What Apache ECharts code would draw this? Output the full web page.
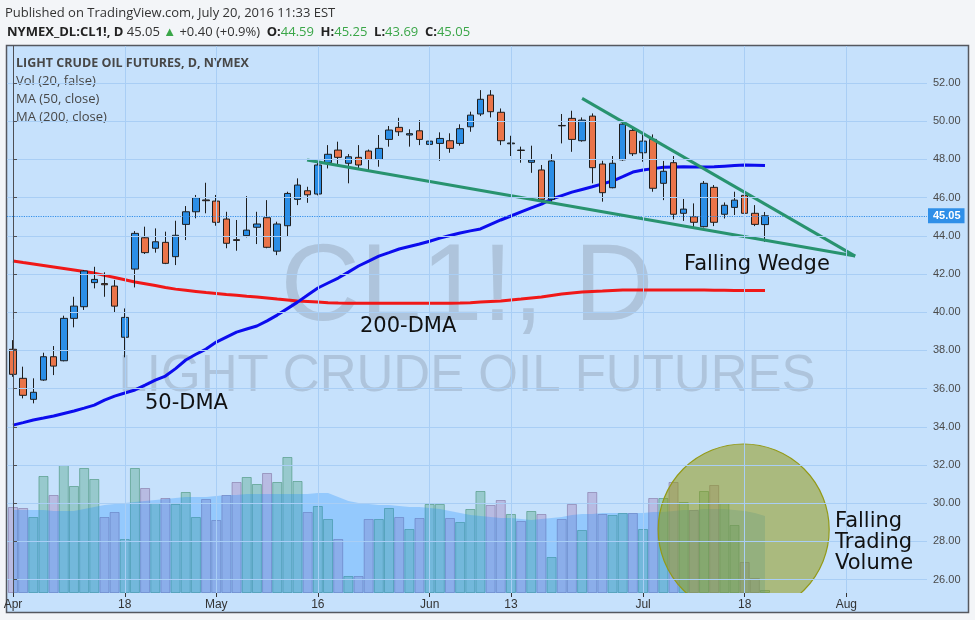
<!DOCTYPE html>
<html><head><meta charset="utf-8">
<script src="https://cdn.jsdelivr.net/npm/echarts@6/dist/echarts.min.js"></script>
<style>html,body{margin:0;padding:0;background:#f3f5f8;}#c{width:975px;height:620px;}</style>
</head><body><div id="c"></div>
<script>
// ---- data ----
const dates = ['2016-04-01','2016-04-04','2016-04-05','2016-04-06','2016-04-07','2016-04-08','2016-04-11','2016-04-12','2016-04-13','2016-04-14',
'2016-04-15','2016-04-18','2016-04-20','2016-04-21','2016-04-22','2016-04-25','2016-04-26','2016-04-27','2016-04-28','2016-04-29',
'2016-05-02','2016-05-03','2016-05-04','2016-05-05','2016-05-06','2016-05-09','2016-05-10','2016-05-11','2016-05-12','2016-05-13',
'2016-05-16','2016-05-17','2016-05-18','2016-05-19','2016-05-20','2016-05-23','2016-05-24','2016-05-25','2016-05-26','2016-05-27',
'2016-05-31','2016-06-01','2016-06-02','2016-06-03','2016-06-06','2016-06-07','2016-06-08','2016-06-09','2016-06-10','2016-06-13',
'2016-06-14','2016-06-15','2016-06-16','2016-06-17','2016-06-21','2016-06-22','2016-06-23','2016-06-24','2016-06-27','2016-06-28',
'2016-06-29','2016-06-30','2016-07-01','2016-07-05','2016-07-06','2016-07-07','2016-07-08','2016-07-11','2016-07-12','2016-07-13',
'2016-07-14','2016-07-15','2016-07-18','2016-07-19','2016-07-20'];
const opens = [38.06,36.54,35.44,36.45,37.67,37.46,39.68,40.29,41.55,41.50,
41.37,38.69,42.26,43.90,43.35,43.66,42.91,44.60,45.26,45.88,
45.82,44.88,43.80,44.01,44.45,44.95,43.20,44.53,45.91,46.36,
46.19,47.83,48.49,47.80,48.11,48.44,48.00,49.05,49.68,49.28,
49.50,48.79,48.84,48.98,48.84,49.71,50.38,51.37,50.47,48.82,
48.49,47.85,47.45,45.91,49.78,50.15,48.98,50.27,47.76,46.52,
47.98,49.52,48.35,49.05,46.75,47.83,45.18,45.00,44.48,46.54,
45.13,45.49,46.12,45.18,44.59];
const closes = [36.75,35.65,35.81,37.67,37.18,39.68,40.32,42.16,41.72,41.44,
40.32,39.73,44.13,43.12,43.69,42.56,44.03,45.26,46.00,45.84,
44.71,43.61,43.76,44.30,44.62,43.40,44.62,46.22,46.66,46.15,
47.71,48.27,48.11,48.14,47.71,48.00,48.58,49.54,49.45,49.35,
49.05,48.96,49.10,48.58,49.61,50.32,51.15,50.50,48.98,48.86,
48.47,47.97,45.91,47.92,49.76,49.05,50.06,47.57,46.26,47.80,
49.85,48.30,48.96,46.49,47.38,45.13,45.40,44.71,46.75,44.71,
45.60,45.87,45.18,44.60,45.05];
const lows = [36.62,35.49,35.23,36.41,36.71,37.43,39.21,40.12,41.25,40.81,
39.98,37.64,41.30,43.05,43.12,42.52,42.47,43.78,44.92,45.18,
44.53,43.35,43.22,43.92,43.57,43.35,42.99,43.95,45.61,45.73,
46.12,47.53,47.71,46.75,47.45,47.41,47.62,48.67,49.23,48.67,
48.75,47.74,47.93,48.35,48.72,49.45,50.27,50.20,48.75,48.18,
47.83,47.30,45.75,45.79,48.84,48.40,48.93,46.75,45.79,46.49,
47.93,48.18,47.88,46.31,45.87,44.86,44.78,44.44,44.44,44.51,
44.91,45.09,44.86,44.51,43.69];
const highs = [38.54,37.15,36.54,37.88,38.23,39.82,40.81,42.21,42.38,42.09,
41.69,40.20,44.25,44.48,44.39,44.22,44.79,45.56,46.14,46.78,
46.14,45.26,44.83,46.08,45.26,45.87,44.74,46.31,47.01,46.57,
47.92,48.75,48.93,48.28,48.75,48.52,49.28,49.75,50.18,49.58,
50.06,49.19,49.42,49.37,49.84,50.50,51.63,51.63,50.67,49.24,
48.67,48.72,47.71,48.28,50.38,50.55,50.20,50.41,47.93,48.18,
49.97,49.63,49.28,49.31,47.92,48.18,45.93,45.70,46.87,46.66,
45.75,46.31,46.31,45.61,45.25];
// volume (relative units)
const volumes = [86,85,76,117,98,128,107,125,114,76,
81,54,125,105,90,95,89,101,76,94,
73,98,111,116,109,120,111,136,112,81,
87,74,54,17,17,74,74,85,76,64,
75,89,89,75,71,84,102,88,93,79,
72,82,79,36,74,89,63,101,79,78,
80,80,64,95,95,111,91,83,102,108,
90,68,31,15,3];
const volumeMA = [83,83,83,83,82,82,82,84,86,88,
89,90,91,92,93,94,95,96,96,96,
97,98,98,99,99,99,99,99,99,99,
100,100,96,92,90,89,88,88,87,86,
86,85,84,82,80,78,77,76,75,75,
74,73,74,75,76,78,79,79,80,80,
80,80,80,81,81,82,83,83,84,84,
84,83,82,80,77];
const ma50 = [34.09,34.22,34.36,34.46,34.57,34.70,34.83,34.98,35.14,35.40,
35.61,35.77,35.93,36.18,36.45,36.66,37.05,37.50,37.80,38.07,
38.44,38.70,38.96,39.12,39.28,39.55,39.85,40.19,40.53,40.90,
41.27,41.53,41.79,42.10,42.42,42.68,42.94,43.12,43.31,43.44,
43.57,43.72,43.88,44.02,44.15,44.26,44.36,44.60,44.83,45.04,
45.25,45.46,45.66,45.93,46.11,46.29,46.43,46.57,46.72,46.87,
47.10,47.34,47.45,47.52,47.59,47.61,47.62,47.61,47.60,47.62,
47.65,47.68,47.71,47.70,47.68];
const ma200 = [42.68,42.60,42.53,42.45,42.37,42.29,42.21,42.13,42.05,41.93,
41.82,41.70,41.58,41.49,41.40,41.30,41.21,41.15,41.09,41.03,
40.98,40.93,40.89,40.84,40.80,40.75,40.69,40.64,40.59,40.56,
40.53,40.50,40.48,40.47,40.47,40.47,40.47,40.47,40.47,40.47,
40.47,40.47,40.47,40.47,40.48,40.50,40.53,40.56,40.59,40.64,
40.69,40.75,40.80,40.88,40.95,41.01,41.06,41.09,41.11,41.14,
41.16,41.16,41.16,41.17,41.17,41.17,41.16,41.16,41.16,41.15,
41.15,41.14,41.14,41.14,41.14];
const tickIndex = [0, 11, 20, 30, 41, 49, 62, 72, 82];
const tickLabels = ['Apr', '18', 'May', '16', 'Jun', '13', 'Jul', '18', 'Aug'];
const priceTicks = [26, 28, 30, 32, 34, 36, 38, 40, 42, 44, 46, 48, 50, 52];
const lastPrice = 45.05;
const wedgeUpper = [[56.0, 51.2], [82.87, 42.94]];
const wedgeLower = [[28.94, 47.97], [82.87, 42.94]];
const volumeCircle = [[71.9, 63.5]];

// ---- chart ----
const chart = echarts.init(document.getElementById('c'), null, {renderer: 'canvas'});
const XMIN = -0.59, XMAX = 89.94;
const gridColor = '#a9cef5';
const upFill = '#2b8ee6', downFill = '#ea7449';

const candleData = dates.map((d, i) => [i, opens[i], closes[i], lows[i], highs[i]]);
const volData = volumes.map((v, i) => {
  const up = closes[i] >= opens[i];
  return {value: [i, v], itemStyle: {
    color: up ? 'rgba(86,170,140,0.42)' : 'rgba(165,135,190,0.42)',
    borderColor: up ? 'rgba(60,140,110,0.55)' : 'rgba(120,100,150,0.5)',
    borderWidth: 1}};
});

const option = {
  backgroundColor: '#f3f5f8',
  animation: false,
  grid: [
    {left: 7, right: 48, top: 46, bottom: 27},
    {left: 7, right: 48, top: 443, bottom: 27}
  ],
  xAxis: [
    {type: 'value', gridIndex: 0, min: XMIN, max: XMAX, z: 10,
      axisLine: {show: false},
      axisTick: {show: true, customValues: tickIndex, length: 4, lineStyle: {color: '#333'}},
      axisLabel: {customValues: tickIndex, color: '#333', fontSize: 12, margin: 6,
        fontFamily: '"Liberation Sans Narrow", "Liberation Sans", Arial',
        formatter: v => { const j = tickIndex.indexOf(Math.round(v)); return j >= 0 ? tickLabels[j] : ''; }},
      splitLine: {show: true, lineStyle: {color: gridColor, width: 1}}},
    {type: 'value', gridIndex: 1, min: XMIN, max: XMAX, show: false}
  ],
  yAxis: [
    {type: 'value', gridIndex: 0, position: 'right', min: 25.30, max: 53.94, z: 10,
      axisLine: {show: true, lineStyle: {color: '#4d4f55'}},
      axisTick: {show: true, customValues: priceTicks, length: 4, lineStyle: {color: '#4d4f55'}},
      axisLabel: {customValues: priceTicks, color: '#4a4a4a', fontSize: 11, margin: 6,
        fontFamily: '"Liberation Sans", Arial', formatter: v => v.toFixed(2)},
      splitLine: {show: true, lineStyle: {color: gridColor, width: 1}}},
    {type: 'value', gridIndex: 1, min: 0, max: 150, show: false}
  ],
  graphic: [
    {type: 'rect', z: -10, silent: true, shape: {x: 6.5, y: 45.5, width: 962, height: 567},
      style: {fill: '#c6e1fc', stroke: '#55585f', lineWidth: 1.5}},
    {type: 'text', z: 1, silent: true, x: 467, y: 290,
      style: {text: 'CL1!, D', fontSize: 110, fontFamily: '"Liberation Sans", Arial',
        fill: 'rgba(105,112,125,0.25)', align: 'center', verticalAlign: 'middle'}},
    {type: 'text', z: 1, silent: true, x: 467, y: 377,
      style: {text: 'LIGHT CRUDE OIL FUTURES', fontSize: 51, fontFamily: '"Liberation Sans", Arial',
        fill: 'rgba(105,112,125,0.25)', align: 'center', verticalAlign: 'middle'}},
    {type: 'text', silent: true, x: 5, y: 13,
      style: {text: 'Published on TradingView.com, July 20, 2016 11:33 EST', fontSize: 13,
        fontFamily: '"Open Sans"', fill: '#333', verticalAlign: 'middle'}},
    {type: 'text', silent: true, x: 7, y: 32,
      style: {text: '{b|NYMEX_DL:CL1!, D} {n|45.05} {g|▲} {n|+0.40 (+0.9%)}  {b|O:}{g|44.59}  {b|H:}{g|45.25}  {b|L:}{g|43.69}  {b|C:}{g|45.05}',
        verticalAlign: 'middle',
        rich: {
          b: {fontSize: 13, fontWeight: 'bold', fontFamily: '"Open Sans"', fill: '#222', color: '#222'},
          n: {fontSize: 13, fontFamily: '"Open Sans"', fill: '#333', color: '#333'},
          g: {fontSize: 13, fontFamily: '"Open Sans"', fill: '#3aa648', color: '#3aa648'}
        }}},
    {type: 'text', silent: true, x: 16, y: 63,
      style: {text: 'LIGHT CRUDE OIL FUTURES, D, NYMEX', fontSize: 12.5, fontWeight: 'bold',
        fontFamily: '"Open Sans"', fill: '#474747', verticalAlign: 'middle'}},
    {type: 'text', silent: true, x: 16, y: 81,
      style: {text: 'Vol (20, false)', fontSize: 13, fontFamily: '"Open Sans"', fill: '#474747', verticalAlign: 'middle'}},
    {type: 'text', silent: true, x: 16, y: 99,
      style: {text: 'MA (50, close)', fontSize: 13, fontFamily: '"Open Sans"', fill: '#474747', verticalAlign: 'middle'}},
    {type: 'text', silent: true, x: 16, y: 117,
      style: {text: 'MA (200, close)', fontSize: 13, fontFamily: '"Open Sans"', fill: '#474747', verticalAlign: 'middle'}},
    {type: 'text', z: 20, silent: true, x: 684, y: 265,
      style: {text: 'Falling Wedge', fontSize: 21, fontFamily: '"DejaVu Sans"', fill: '#111', verticalAlign: 'middle'}},
    {type: 'text', z: 20, silent: true, x: 360, y: 327,
      style: {text: '200-DMA', fontSize: 21, fontFamily: '"DejaVu Sans"', fill: '#111', verticalAlign: 'middle'}},
    {type: 'text', z: 20, silent: true, x: 145, y: 404,
      style: {text: '50-DMA', fontSize: 21, fontFamily: '"DejaVu Sans"', fill: '#111', verticalAlign: 'middle'}},
    {type: 'text', z: 20, silent: true, x: 835, y: 511,
      style: {text: 'Falling\nTrading\nVolume', fontSize: 21, lineHeight: 21, fontFamily: '"DejaVu Sans"', fill: '#111', verticalAlign: 'top'}}
  ],
  series: [
    {type: 'bar', name: 'Vol', xAxisIndex: 1, yAxisIndex: 1, barWidth: 10, data: volData, z: 1, silent: true},
    {type: 'line', name: 'Vol MA', xAxisIndex: 1, yAxisIndex: 1, symbol: 'none', z: 2, silent: true,
      data: volumeMA.map((v, i) => [i, v]),
      lineStyle: {width: 0}, areaStyle: {color: 'rgba(30,144,255,0.42)'}},
    {type: 'custom', name: 'circle', xAxisIndex: 1, yAxisIndex: 1, clip: true, z: 6, silent: true,
      data: volumeCircle,
      renderItem: (params, api) => {
        const c = api.coord([api.value(0), api.value(1)]);
        return {type: 'circle', shape: {cx: c[0], cy: c[1], r: 85.5},
          style: {fill: 'rgba(148,155,22,0.55)', stroke: '#949a18', lineWidth: 1.2}};
      }},
    {type: 'line', name: 'MA200', xAxisIndex: 0, yAxisIndex: 0, symbol: 'none', z: 3, silent: true,
      data: ma200.map((v, i) => [i, v]), lineStyle: {color: '#f01818', width: 3}},
    {type: 'line', name: 'MA50', xAxisIndex: 0, yAxisIndex: 0, symbol: 'none', z: 3, silent: true,
      data: ma50.map((v, i) => [i, v]), lineStyle: {color: '#0c0cee', width: 3}},
    {type: 'candlestick', name: 'CL1!', xAxisIndex: 0, yAxisIndex: 0, z: 4, barWidth: 7,
      data: candleData, encode: {x: 0, y: [1, 2, 3, 4]},
      itemStyle: {color: upFill, color0: downFill, borderColor: '#1e1e1e', borderColor0: '#1e1e1e', borderWidth: 1},
      markLine: {silent: true, symbol: ['none', 'none'], animation: false,
        data: [{yAxis: lastPrice}],
        lineStyle: {color: '#3590ea', type: 'dotted', width: 1.2},
        label: {show: true, position: 'end', distance: 1, formatter: lastPrice.toFixed(2),
          backgroundColor: '#2f8fe8', color: '#fff', fontSize: 11, fontWeight: 'bold',
          fontFamily: '"Liberation Sans", Arial', padding: [2, 4, 2, 5]}}},
    {type: 'line', name: 'wedge upper', xAxisIndex: 0, yAxisIndex: 0, symbol: 'none', z: 5, silent: true,
      data: wedgeUpper, lineStyle: {color: '#28936f', width: 3}},
    {type: 'line', name: 'wedge lower', xAxisIndex: 0, yAxisIndex: 0, symbol: 'none', z: 5, silent: true,
      data: wedgeLower, lineStyle: {color: '#28936f', width: 3}}
  ]
};
chart.setOption(option);
</script></body></html>
